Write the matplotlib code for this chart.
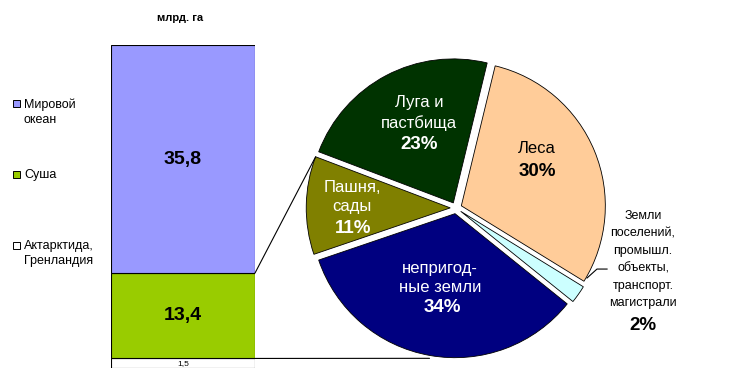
import matplotlib
matplotlib.use('Agg')
import matplotlib.pyplot as plt
from matplotlib.patches import ConnectionPatch, Rectangle
import numpy as np

plt.rcParams['font.family'] = ['Liberation Sans', 'DejaVu Sans']

# stacked bar: surface of the Earth, bln ha (bottom to top)
bar_labels = ['Актарктида,\nГренландия', 'Суша', 'Мировой\nокеан']
bar_values = [1.5, 13.4, 35.8]
bar_texts = ['1,5', '13,4', '35,8']
bar_colors = ['white', '#99CC00', '#9999FF']

# pie: land use, %
pie_names = ['Леса', 'Земли\nпоселений,\nпромышл.\nобъекты,\nтранспорт.\nмагистрали',
             'непригод-\nные земли', 'Пашня,\nсады', 'Луга и\nпастбища']
pie_values = [30, 2, 34, 11, 23]
pie_pcts = ['30%', '2%', '34%', '11%', '23%']
pie_colors = ['#FFCC99', '#CCFFFF', '#000080', '#808000', '#003300']
pie_text_colors = ['black', 'black', 'white', 'white', 'white']

W, H = 730, 383
fig = plt.figure(figsize=(W / 100, H / 100), dpi=100)


def box(l, t, r, b):
    return [l / W, 1 - b / H, (r - l) / W, (b - t) / H]


# ---- bar
ax_bar = fig.add_axes(box(111, 45, 255, 368))
bottom = 0
for v, c, t in zip(bar_values, bar_colors, bar_texts):
    ax_bar.bar(0, v, width=1, bottom=bottom, color=c, edgecolor='black', linewidth=0.8)
    small = v < 3
    ax_bar.text(0, bottom + v / 2, t, ha='center', va='center',
                fontsize=6 if small else 14, fontweight='normal' if small else 'bold')
    bottom += v
ax_bar.set_xlim(-0.5, 0.5)
ax_bar.set_ylim(0, sum(bar_values))
ax_bar.axis('off')

fig.text(180 / W, 1 - 18 / H, 'млрд. га', ha='center', va='center', fontsize=8, fontweight='bold')

# legend, top entry first
leg_y = [103, 174, 245]
for i, (lab, c) in enumerate(zip(bar_labels[::-1], bar_colors[::-1])):
    y = leg_y[i]
    fig.patches.append(Rectangle((13 / W, 1 - (y + 3.5) / H), 7 / W, 7 / H, transform=fig.transFigure,
                                 facecolor=c, edgecolor='black', linewidth=0.7))
    fig.text(24 / W, 1 - (y - 4.5) / H, lab, ha='left', va='top', fontsize=9, linespacing=1.3)

# ---- pie
ax_pie = fig.add_axes(box(296, 48, 616, 368))
explode = 0.04
start = 76.4
wedges, _ = ax_pie.pie(pie_values, startangle=start, counterclock=False, colors=pie_colors,
                       explode=[explode] * len(pie_values),
                       wedgeprops=dict(edgecolor='black', linewidth=0.6))
lim = 160 / 144
ax_pie.set_xlim(-lim, lim)
ax_pie.set_ylim(-lim, lim)
ax_pie.axis('off')

frac = np.array(pie_values) / sum(pie_values)
bounds = start - 360 * np.concatenate([[0], np.cumsum(frac)])

name_pos = [(0.5625, 0.41), (1.299, -0.36), (-0.111, -0.486), (-0.722, 0.076), (-0.257, 0.66)]
pct_pos = [(0.5625, 0.25), (1.299, -0.8125), (-0.097, -0.694), (-0.715, -0.139), (-0.257, 0.444)]
for i in range(len(pie_values)):
    outside = i == 1
    ax_pie.text(*name_pos[i], pie_names[i], ha='center', va='center', color=pie_text_colors[i],
                fontsize=9 if outside else 12, linespacing=1.6 if outside else 1.35)
    ax_pie.text(*pct_pos[i], pie_pcts[i], ha='center', va='center', color=pie_text_colors[i],
                fontsize=13.5, fontweight='bold')

# leader line for the small slice
ax_pie.plot([0.91, 0.979, 1.049], [-0.486, -0.424, -0.424], color='black', lw=0.8, clip_on=False)


def arc_point(i, ang, r=1.0):
    cx, cy = wedges[i].center
    a = np.deg2rad(ang)
    return cx + r * np.cos(a), cy + r * np.sin(a)


top_pt = arc_point(3, bounds[4])
bot_pt = arc_point(2, (bounds[2] + bounds[3]) / 2, 1.02)
for ya, pt in [(bar_values[0] + bar_values[1], top_pt), (bar_values[0], bot_pt)]:
    con = ConnectionPatch(xyA=(0.5, ya), coordsA=ax_bar.transData, xyB=pt, coordsB=ax_pie.transData,
                          color='black', lw=0.8)
    fig.add_artist(con)

fig.savefig('out.png', dpi=100)
